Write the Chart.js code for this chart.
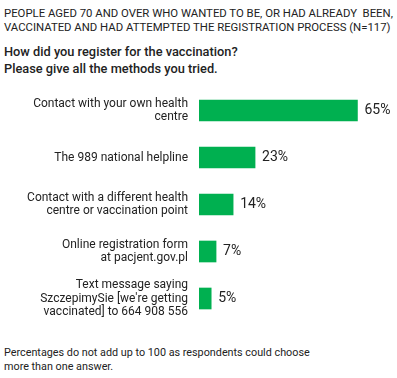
<!DOCTYPE html>
<html>
<head>
<meta charset="utf-8">
<script src="https://cdn.jsdelivr.net/npm/chart.js"></script>
<style>
  body { margin: 0; background: #fff; font-family: Roboto, sans-serif; color: #222; }
  .t { position: absolute; left: 4px; white-space: nowrap; }
  #head { top: 6px; font-size: 11.35px; line-height: 14px; }
  #quest { top: 43px; font-size: 12.8px; line-height: 17px; font-weight: 500; }
  #foot { top: 346px; font-size: 10.8px; line-height: 13.5px; }
  #wrap { position: absolute; left: 0; top: 77px; width: 397px; height: 255px; }
</style>
</head>
<body>
<div class="t" id="head">PEOPLE AGED 70 AND OVER WHO WANTED TO BE, OR HAD ALREADY&nbsp; BEEN,<br>VACCINATED AND HAD ATTEMPTED THE REGISTRATION PROCESS (N=117)</div>
<div class="t" id="quest">How did you register for the vaccination?<br>Please give all the methods you tried.</div>
<div id="wrap"><canvas id="grafico"></canvas></div>
<div class="t" id="foot">Percentages do not add up to 100 as respondents could choose<br>more than one answer.</div>
<script>
  const metodos = [
    ['Contact with your own health', 'centre'],
    ['The 989 national helpline'],
    ['Contact with a different health', 'centre or vaccination point'],
    ['Online registration form', 'at pacjent.gov.pl'],
    ['Text message saying', "SzczepimySie [we're getting", 'vaccinated] to 664 908 556']
  ];
  const porcentajes = [65, 23, 14, 7, 5];

  // etiquetas de valor al final de cada barra
  const etiquetas = {
    id: 'etiquetas',
    afterDatasetsDraw(chart) {
      const ctx = chart.ctx;
      ctx.save();
      ctx.font = '14px Roboto, sans-serif';
      ctx.fillStyle = '#222';
      ctx.textBaseline = 'middle';
      chart.getDatasetMeta(0).data.forEach((bar, i) => {
        ctx.fillText(porcentajes[i] + '%', bar.x + 7, bar.y);
      });
      ctx.restore();
    }
  };

  new Chart(document.getElementById('grafico'), {
    type: 'bar',
    data: {
      labels: metodos,
      datasets: [{
        data: porcentajes,
        backgroundColor: '#00b050',
        barThickness: 21
      }]
    },
    options: {
      indexAxis: 'y',
      responsive: true,
      maintainAspectRatio: false,
      animation: false,
      layout: { padding: { top: 10, bottom: 10, right: 3 } },
      plugins: {
        legend: { display: false },
        tooltip: { enabled: false }
      },
      scales: {
        x: { display: false, min: 0, max: 80 },
        y: {
          grid: { display: false, drawTicks: false },
          border: { display: false },
          afterFit: s => { s.width = 199; s.paddingTop = 0; s.paddingBottom = 0; },
          ticks: {
            color: '#222',
            padding: 11,
            font: { family: 'Roboto', size: 12, lineHeight: 1.12 }
          }
        }
      }
    },
    plugins: [etiquetas]
  });
</script>
</body>
</html>
